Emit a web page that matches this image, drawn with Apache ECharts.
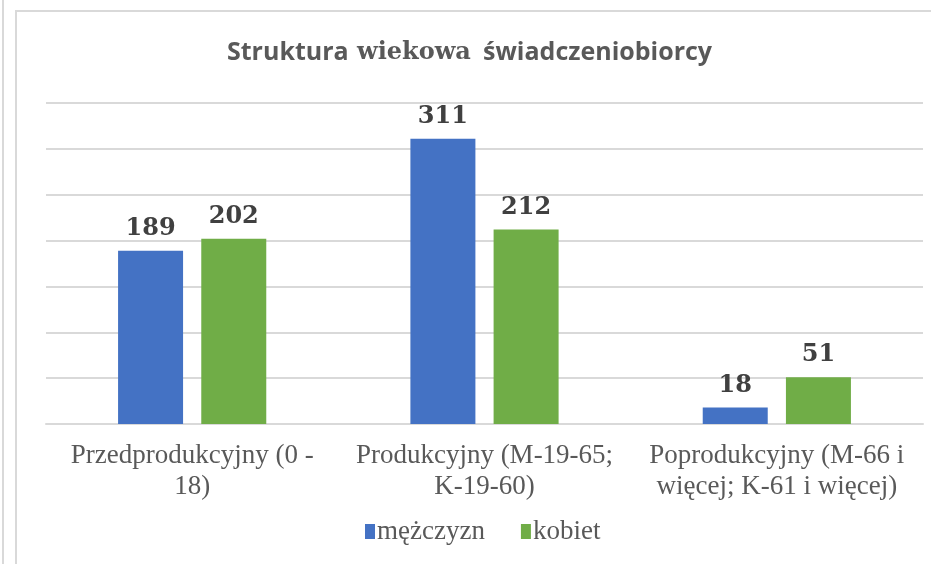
<!DOCTYPE html>
<html>
<head>
<meta charset="utf-8">
<script src="https://cdn.jsdelivr.net/npm/echarts@6/dist/echarts.min.js"></script>
<style>
  html, body { margin: 0; padding: 0; background: #fff; }
  #chart { width: 931px; height: 564px; }
</style>
</head>
<body>
<div id="chart"></div>
<script>
// dane wykresu
var categories = ['Przedprodukcyjny (0 -\n18)', 'Produkcyjny (M-19-65;\nK-19-60)', 'Poprodukcyjny (M-66 i\nwięcej; K-61 i więcej)'];
var seriesNames = ['mężczyzn', 'kobiet'];
var men = [189, 311, 18];
var women = [202, 212, 51];
var titleParts = ['Struktura', 'wiekowa', 'świadczeniobiorcy'];

var labelStyle = {
  show: true,
  position: 'top',
  distance: 10,
  color: '#404040',
  fontFamily: 'DejaVu Serif',
  fontWeight: 'bold',
  fontSize: 24
};

var sansTitle = { fontFamily: 'Open Sans', fontWeight: 'bold', fontSize: 25, color: '#595959' };

var myChart = echarts.init(document.getElementById('chart'));
var options = {
  backgroundColor: '#fff',
  // tytuł w trzech częściach (środkowe słowo innym krojem)
  title: [
    { text: titleParts[0], left: 222, top: 35, textStyle: sansTitle },
    { text: titleParts[1], left: 352, top: 36,
      textStyle: { fontFamily: 'DejaVu Serif', fontWeight: 'bold', fontSize: 24, color: '#595959' } },
    { text: titleParts[2], left: 478, top: 35, textStyle: sansTitle }
  ],
  legend: {
    data: seriesNames,
    bottom: 14,
    left: 360,
    icon: 'rect',
    itemWidth: 10,
    itemHeight: 15,
    itemGap: 36,
    textStyle: { fontFamily: 'Liberation Serif', fontSize: 27, color: '#595959', padding: [0, 0, 0, -3] }
  },
  grid: { left: 46, right: 8, top: 103, bottom: 140 },
  xAxis: {
    type: 'category',
    data: categories,
    axisTick: { show: false },
    axisLine: { lineStyle: { color: '#d9d9d9', width: 2 } },
    axisLabel: {
      interval: 0,
      margin: 16,
      fontFamily: 'Liberation Serif',
      fontSize: 27,
      lineHeight: 31,
      color: '#595959'
    }
  },
  yAxis: {
    type: 'value',
    min: 0,
    max: 350,
    interval: 50,
    axisLabel: { show: false },
    axisLine: { show: false },
    axisTick: { show: false },
    splitLine: { lineStyle: { color: '#d9d9d9', width: 2 } }
  },
  series: [
    {
      name: seriesNames[0],
      type: 'bar',
      data: men,
      barWidth: 65,
      barGap: '28%',
      itemStyle: { color: '#4472c4' },
      label: labelStyle
    },
    {
      name: seriesNames[1],
      type: 'bar',
      data: women,
      barWidth: 65,
      itemStyle: { color: '#70ad47' },
      label: labelStyle
    }
  ],
  graphic: [
    { type: 'line', shape: { x1: 3, y1: 0, x2: 3, y2: 564 }, style: { stroke: '#d9d9d9', lineWidth: 2 } },
    { type: 'polyline', shape: { points: [[16, 564], [16, 11], [931, 11]] }, style: { stroke: '#d9d9d9', lineWidth: 2, fill: null } }
  ]
};
myChart.setOption(options);
</script>
</body>
</html>
